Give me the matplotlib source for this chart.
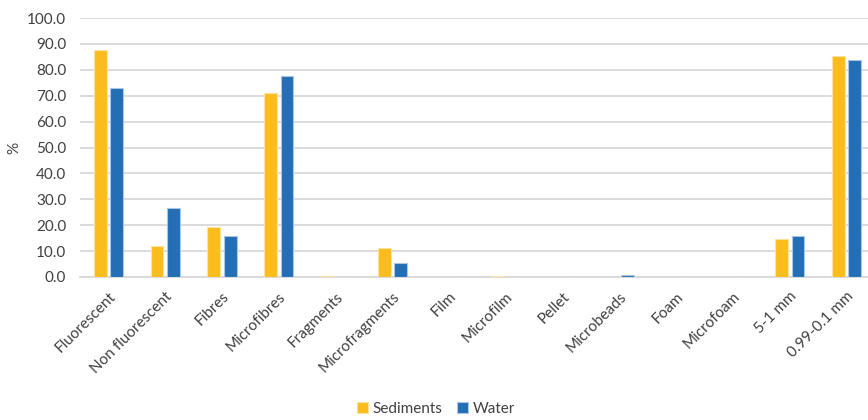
import numpy as np
import matplotlib.pyplot as plt

categories = ["Fluorescent", "Non fluorescent", "Fibres", "Microfibres", "Fragments",
              "Microfragments", "Film", "Microfilm", "Pellet", "Microbeads", "Foam",
              "Microfoam", "5-1 mm", "0.99-0.1 mm"]
sediments = [87.6, 12.1, 19.3, 70.9, 0.2, 11.1, 0.0, 0.5, 0.0, 0.0, 0.0, 0.0, 14.5, 85.3]
water = [73.1, 26.8, 16.0, 77.7, 0.0, 5.3, 0.0, 0.0, 0.0, 0.9, 0.0, 0.0, 16.0, 83.8]

plt.rcParams['font.family'] = ['Lato', 'DejaVu Sans']
fontsize = 11

fig = plt.figure(figsize=(8.68, 4.2), dpi=100)
ax = fig.add_axes([80/868, 143/420, 795/868, 259/420])

x = np.arange(len(categories))
w = 0.224
off = 0.144
ax.bar(x - off, sediments, w, color="#FBBD1E", edgecolor="#FDE3A0", linewidth=0.8, label="Sediments", zorder=3)
ax.bar(x + off, water, w, color="#236EB4", edgecolor="#A9C6E6", linewidth=0.8, label="Water", zorder=3)

ax.set_xlim(-0.5, len(categories) - 0.5)
ax.set_ylim(0, 100)
ax.set_yticks(np.arange(0, 101, 10))
ax.set_yticklabels([f"{v:.1f}" for v in np.arange(0, 101, 10)], fontsize=fontsize, color="#404040")
ax.set_xticks(x)
ax.set_xticklabels(categories, rotation=45, ha="right", rotation_mode="anchor", fontsize=fontsize, color="#404040")
ax.tick_params(axis="x", length=0, pad=9)
ax.tick_params(axis="y", length=0, pad=10)

ax.grid(axis="y", color="#D9D9D9", linewidth=1.3, zorder=0)
for s in ["top", "right", "left"]:
    ax.spines[s].set_visible(False)
ax.spines["bottom"].set_color("#D9D9D9")
ax.spines["bottom"].set_linewidth(1.3)

fig.text(14/868, 1 - 148/420, "%", rotation=90, fontsize=fontsize, color="#404040", ha="center", va="center")

fig.legend(loc="center", bbox_to_anchor=(436/868, 1 - 409/420), ncol=2, frameon=False,
           fontsize=fontsize, handlelength=0.7, handleheight=0.7, handletextpad=0.3, columnspacing=1.0,
           labelcolor="#404040")

fig.savefig("out.png", dpi=100)
